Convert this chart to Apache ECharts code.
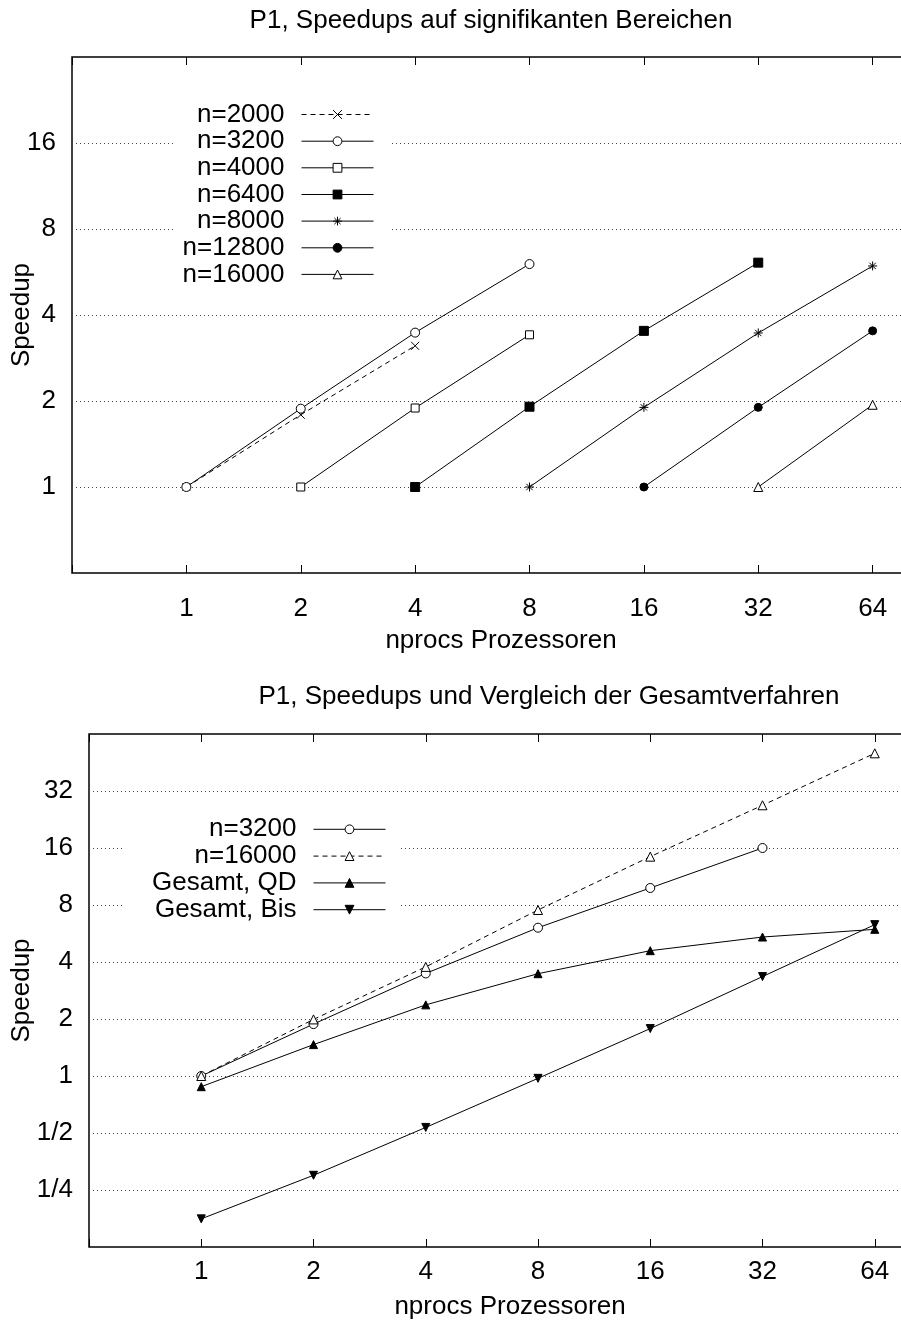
<!DOCTYPE html>
<html>
<head>
<meta charset="utf-8">
<script src="https://cdn.jsdelivr.net/npm/echarts@6/dist/echarts.min.js"></script>
<style>
  html, body { margin: 0; padding: 0; background: #fff; }
  #chart { width: 901px; height: 1328px; }
</style>
</head>
<body>
<div id="chart"></div>
<script>
// ---- data -------------------------------------------------------------
// processor counts shown on the x axes
const procTicks = [1, 2, 4, 8, 16, 32, 64];

// upper plot: speedups on significant ranges
const topYTicks = [1, 2, 4, 8, 16];
const x2000 = [1, 2, 4];        const s2000 = [1, 1.79, 3.12];
const x3200 = [1, 2, 4, 8];     const s3200 = [1, 1.88, 3.47, 6.03];
const x4000 = [2, 4, 8];        const s4000 = [1, 1.89, 3.41];
const x6400 = [4, 8, 16, 32];   const s6400 = [1, 1.91, 3.52, 6.1];
const x8000 = [8, 16, 32, 64];  const s8000 = [1, 1.9, 3.46, 5.94];
const x12800 = [16, 32, 64];    const s12800 = [1, 1.9, 3.52];
const x16000 = [32, 64];        const s16000 = [1, 1.94];

// lower plot: speedups and comparison of the complete methods
const bottomYTicks = [0.25, 0.5, 1, 2, 4, 8, 16, 32];
const bottomYLabels = ['1/4', '1/2', '1', '2', '4', '8', '16', '32'];
const xB3200 = [1, 2, 4, 8, 16, 32];       const sB3200 = [1, 1.88, 3.48, 6.07, 9.84, 16];
const xB16000 = [1, 2, 4, 8, 16, 32, 64];  const sB16000 = [1, 1.99, 3.77, 7.53, 14.4, 26.9, 50.6];
const xQD = [1, 2, 4, 8, 16, 32, 64];      const sQD = [0.878, 1.465, 2.375, 3.47, 4.59, 5.42, 5.95];
const xBis = [1, 2, 4, 8, 16, 32, 64];     const sBis = [0.176, 0.299, 0.535, 0.972, 1.78, 3.35, 6.3];

// ---- styling helpers ---------------------------------------------------
const FONT = 'Liberation Sans';
const FS = 26;
const CROSS = 'path://M0,0L10,10M10,0L0,10';
const STAR = 'path://M5,0L5,10M0,5L10,5M1.5,1.5L8.5,8.5M8.5,1.5L1.5,8.5';
const DASH = [5, 4];

function labelFor(ticks, labels) {
  return function (v) {
    for (let i = 0; i < ticks.length; i++) {
      if (Math.abs(v - ticks[i]) < 1e-6 * ticks[i]) return labels ? labels[i] : String(ticks[i]);
    }
    return '';
  };
}

function lineSeries(name, grid, xs, ys, mark) {
  return {
    type: 'line',
    name: name,
    xAxisIndex: grid * 2,
    yAxisIndex: grid,
    data: xs.map((x, i) => [x, ys[i]]),
    symbol: mark.symbol,
    symbolSize: mark.size,
    symbolRotate: mark.rotate || 0,
    lineStyle: { color: '#000', width: 1, type: mark.dashed ? DASH : 'solid' },
    itemStyle: { color: mark.fill, borderColor: '#000', borderWidth: 1 },
    emphasis: { disabled: true },
    silent: true,
    z: 3
  };
}

function xAxes(grid, labelMargin) {
  const common = {
    type: 'log', logBase: 2, gridIndex: grid,
    min: 0.5, max: 128, interval: 1,
    axisLine: { show: false },
    axisTick: { show: true, inside: true, length: 8, lineStyle: { color: '#000', width: 1 } },
    splitLine: { show: false }
  };
  return [
    Object.assign({}, common, {
      position: 'bottom',
      axisLabel: {
        show: true, margin: labelMargin, color: '#000', fontSize: FS, fontFamily: FONT,
        formatter: labelFor(procTicks)
      }
    }),
    Object.assign({}, common, { position: 'top', axisLabel: { show: false } })
  ];
}

function legendFor(name, rightPx, centerY) {
  return {
    data: [name],
    orient: 'vertical',
    right: rightPx,
    top: centerY - 13,
    align: 'right',
    padding: 0,
    itemWidth: 72,
    itemHeight: 11,
    selectedMode: false,
    formatter: n => n.split('|')[0],
    itemStyle: { borderWidth: 1 },
    lineStyle: { width: 1 },
    textStyle: { color: '#000', fontSize: FS, fontFamily: FONT, padding: [0, 12, 0, 0] }
  };
}

const topNames = ['n=2000', 'n=3200', 'n=4000', 'n=6400', 'n=8000', 'n=12800', 'n=16000'];
const bottomNames = ['n=3200|b', 'n=16000|b', 'Gesamt, QD', 'Gesamt, Bis'];

const series = [
  lineSeries(topNames[0], 0, x2000, s2000, { symbol: CROSS, size: 8, fill: '#000', dashed: true }),
  lineSeries(topNames[1], 0, x3200, s3200, { symbol: 'circle', size: 9, fill: '#fff' }),
  lineSeries(topNames[2], 0, x4000, s4000, { symbol: 'rect', size: 8, fill: '#fff' }),
  lineSeries(topNames[3], 0, x6400, s6400, { symbol: 'rect', size: 9, fill: '#000' }),
  lineSeries(topNames[4], 0, x8000, s8000, { symbol: STAR, size: 9, fill: '#000' }),
  lineSeries(topNames[5], 0, x12800, s12800, { symbol: 'circle', size: 8, fill: '#000' }),
  lineSeries(topNames[6], 0, x16000, s16000, { symbol: 'triangle', size: 9, fill: '#fff' }),

  lineSeries(bottomNames[0], 1, xB3200, sB3200, { symbol: 'circle', size: 9, fill: '#fff' }),
  lineSeries(bottomNames[1], 1, xB16000, sB16000, { symbol: 'triangle', size: 9, fill: '#fff', dashed: true }),
  lineSeries(bottomNames[2], 1, xQD, sQD, { symbol: 'triangle', size: 8, fill: '#000' }),
  lineSeries(bottomNames[3], 1, xBis, sBis, { symbol: 'triangle', size: 8, fill: '#000', rotate: 180 })
];

const topLegendY = [114.5, 141.2, 167.8, 194.5, 221.1, 247.8, 274.4];
const bottomLegendY = [829.3, 856.1, 882.9, 909.7];

const legends = []
  .concat(topNames.map((n, i) => legendFor(n, 527, topLegendY[i])))
  .concat(bottomNames.map((n, i) => legendFor(n, 515, bottomLegendY[i])));

function titleText(text, cx, cy) {
  return {
    text: text, left: cx, top: cy, padding: 0,
    textAlign: 'center', textVerticalAlign: 'middle',
    textStyle: { color: '#000', fontSize: FS, fontWeight: 'normal', fontFamily: FONT }
  };
}

const yCommon = {
  type: 'log', logBase: 2, interval: 1,
  name: 'Speedup', nameLocation: 'middle', nameMoveOverlap: false,
  nameTextStyle: { color: '#000', fontSize: FS, fontFamily: FONT },
  axisLine: { show: false },
  axisTick: { show: false },
  splitLine: {
    show: true, showMinLine: false, showMaxLine: false,
    lineStyle: { color: '#444', width: 1, type: [1, 3] }
  }
};

const option = {
  animation: false,
  backgroundColor: '#fff',
  textStyle: { fontFamily: FONT },
  title: [
    titleText('P1, Speedups auf signifikanten Bereichen', 491, 21),
    titleText('nprocs Prozessoren', 501, 641),
    titleText('P1, Speedups und Vergleich der Gesamtverfahren', 549, 697),
    titleText('nprocs Prozessoren', 510, 1307)
  ],
  grid: [
    { left: 72, top: 57, width: 915, height: 516, outerBoundsMode: 'none', containLabel: false,
      show: true, borderColor: '#000', borderWidth: 1.5 },
    { left: 89, top: 734, width: 898, height: 513, outerBoundsMode: 'none', containLabel: false,
      show: true, borderColor: '#000', borderWidth: 1.5 }
  ],
  xAxis: [].concat(xAxes(0, 23), xAxes(1, 12)),
  yAxis: [
    Object.assign({}, yCommon, {
      gridIndex: 0, min: 0.5, max: 32, nameGap: 37,
      axisLabel: { margin: 16, color: '#000', fontSize: FS, fontFamily: FONT, formatter: labelFor(topYTicks) }
    }),
    Object.assign({}, yCommon, {
      gridIndex: 1, min: 0.125, max: 64, nameGap: 54,
      axisLabel: { margin: 16, color: '#000', fontSize: FS, fontFamily: FONT, formatter: labelFor(bottomYTicks, bottomYLabels) }
    })
  ],
  // opaque key boxes hide the dotted grid behind the legends
  graphic: [
    { type: 'rect', z: 1, silent: true, shape: { x: 175, y: 100, width: 215, height: 188 }, style: { fill: '#fff' } },
    { type: 'rect', z: 1, silent: true, shape: { x: 122, y: 813, width: 279, height: 112 }, style: { fill: '#fff' } }
  ],
  legend: legends,
  series: series
};

const chart = echarts.init(document.getElementById('chart'), null, { renderer: 'canvas' });
chart.setOption(option);
</script>
</body>
</html>
